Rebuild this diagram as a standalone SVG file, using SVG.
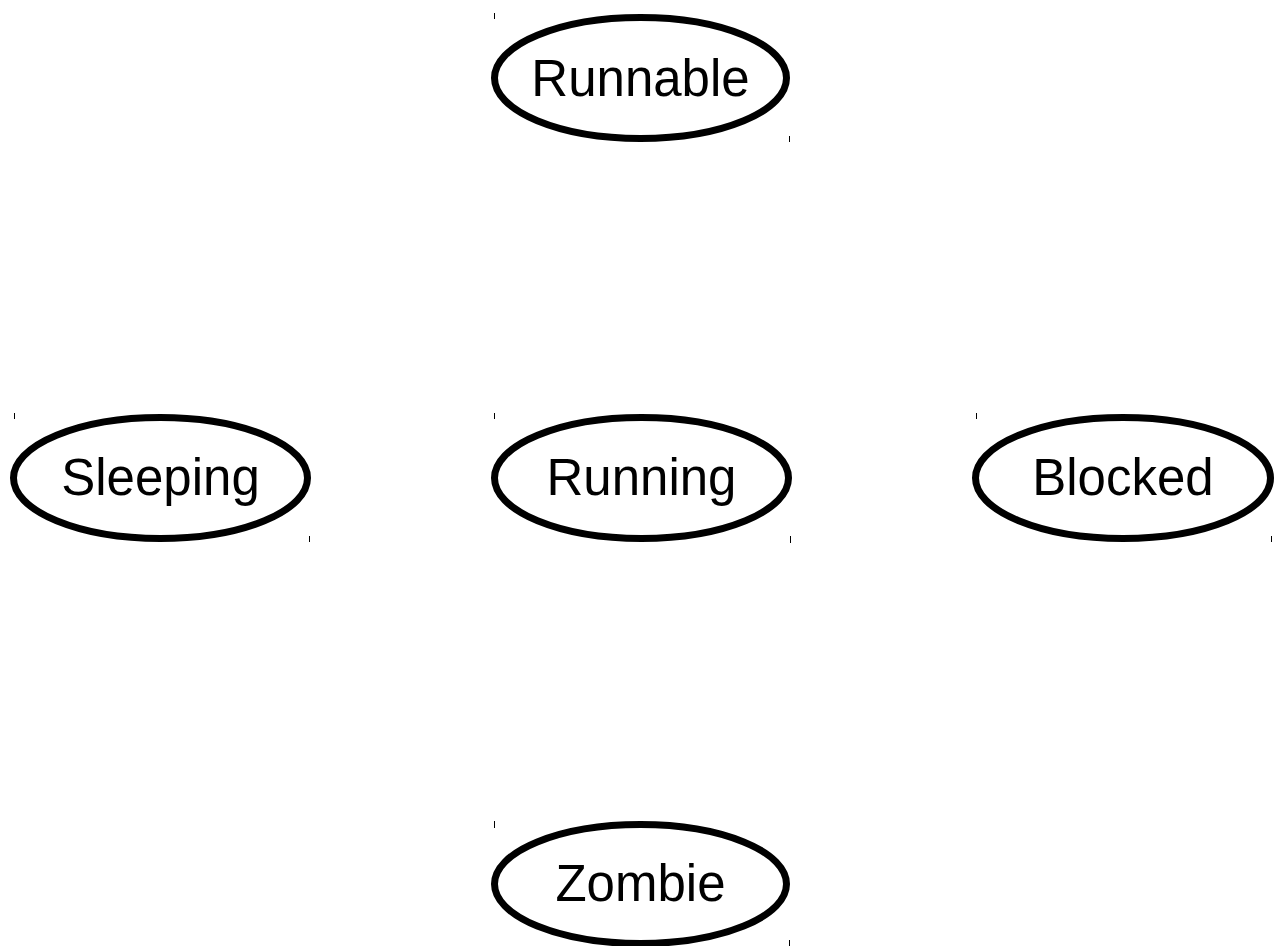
<svg xmlns="http://www.w3.org/2000/svg" width="1276" height="946" viewBox="0 0 1276 946">
<style>
.n ellipse{fill:#fff;stroke:#000;stroke-width:7}
.n text{font-family:"Liberation Sans",Arial,sans-serif;font-size:51px;text-anchor:middle;fill:#000}
.t{stroke:#000;stroke-width:1}
</style>
<rect width="1276" height="946" fill="#fff"/>
<g id="connectors"></g>
<g id="runnable" class="n">
<ellipse cx="640.5" cy="78" rx="146" ry="60.5"/>
<text x="640.5" y="95.5">Runnable</text>
<line class="t" x1="494.5" y1="13" x2="494.5" y2="19"/>
<line class="t" x1="789.5" y1="136" x2="789.5" y2="142"/>
</g>
<g id="sleeping" class="n">
<ellipse cx="160.5" cy="478" rx="147" ry="60.5"/>
<text x="160.5" y="495">Sleeping</text>
<line class="t" x1="14.5" y1="413" x2="14.5" y2="419"/>
<line class="t" x1="309.5" y1="536" x2="309.5" y2="542"/>
</g>
<g id="running" class="n">
<ellipse cx="641.5" cy="478" rx="147" ry="60.5"/>
<text x="641.5" y="495">Running</text>
<line class="t" x1="494.5" y1="413" x2="494.5" y2="419"/>
<line class="t" x1="790.5" y1="536" x2="790.5" y2="543"/>
</g>
<g id="blocked" class="n">
<ellipse cx="1123" cy="478" rx="147.5" ry="60.5"/>
<text x="1123" y="495">Blocked</text>
<line class="t" x1="976.5" y1="413" x2="976.5" y2="419"/>
<line class="t" x1="1271.5" y1="536" x2="1271.5" y2="542"/>
</g>
<g id="zombie" class="n">
<ellipse cx="640.5" cy="884" rx="146" ry="59.5"/>
<text x="640.5" y="901">Zombie</text>
<line class="t" x1="494.5" y1="821" x2="494.5" y2="828"/>
<line class="t" x1="789.5" y1="940" x2="789.5" y2="946"/>
</g>
</svg>
